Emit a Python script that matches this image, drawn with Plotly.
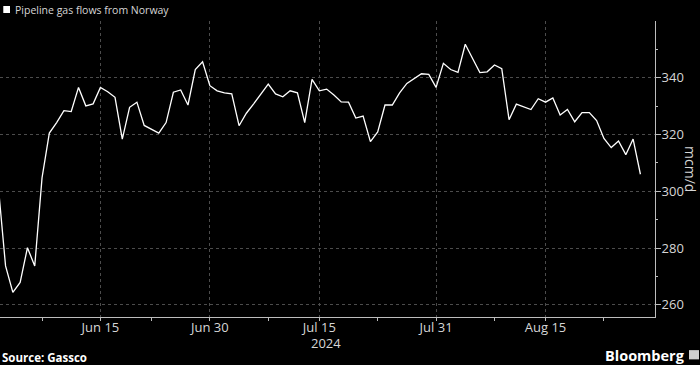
import plotly.graph_objects as go
import pandas as pd

# ---- data ----
start_date = "2024-06-01"
flows = [
    302.0, 273.7, 264.4, 267.9, 280.1, 273.7, 304.7, 320.5, 324.2, 328.4,   # Jun 1-10
    328.1, 336.6, 330.1, 330.8, 336.6, 335.1, 333.1, 318.4, 329.6, 331.4,   # Jun 11-20
    323.2, 321.9, 320.5, 324.2, 334.9, 335.7, 330.4, 342.9, 345.6, 337.2,   # Jun 21-30
    335.4, 334.7, 334.3, 323.1, 327.5, 330.8, 334.3, 337.8, 334.3, 333.3,   # Jul 1-10
    335.4, 334.7, 324.2, 339.4, 335.4, 336.0, 333.9, 331.5, 331.4, 325.8,   # Jul 11-20
    326.5, 317.5, 320.9, 330.4, 330.4, 334.7, 338.0, 339.8, 341.4, 341.2,   # Jul 21-30
    336.6, 345.1, 342.9, 341.9, 351.8, 346.8, 341.8, 342.1, 344.5, 343.2,   # Jul 31-Aug 9
    325.2, 330.7, 329.7, 328.8, 332.6, 331.4, 332.9, 326.9, 328.8, 324.5,   # Aug 10-19
    327.7, 327.7, 324.9, 318.6, 315.4, 317.7, 312.9, 318.4, 306.0,          # Aug 20-28
]
dates = pd.date_range(start_date, periods=len(flows), freq="D")

series_name = "Pipeline gas flows from Norway"
x_tick_vals = ["2024-06-15", "2024-06-30", "2024-07-15", "2024-07-31", "2024-08-15"]
x_tick_text = ["Jun 15", "Jun 30", "Jul 15", "Jul 31", "Aug 15"]
x_minor_vals = ["2024-06-07", "2024-06-22", "2024-07-08", "2024-07-23",
                "2024-08-08", "2024-08-23"]
year_label = "2024"
y_tick_vals = [260, 280, 300, 320, 340]
y_minor_vals = [270, 290, 310, 330, 350]
x_range = ["2024-06-01 05:45", "2024-08-30 00:00"]
y_range = [255.7, 360]
y_title = "mcm/d"
source_text = "Source: Gassco"
brand_text = "Bloomberg"

TEXT = "#d6d6d6"
GRID = "#4c4c4c"
AXIS = "#bdbdbd"
FONT = "Open Sans"

fig = go.Figure()
fig.add_trace(go.Scatter(
    x=dates, y=flows, mode="lines", name=series_name,
    line=dict(color="#ffffff", width=1.3), showlegend=False,
))

fig.update_layout(
    width=700, height=365,
    margin=dict(l=0, r=45, t=20.7, b=47.5),
    paper_bgcolor="#000000", plot_bgcolor="#000000",
    font=dict(family=FONT, color=TEXT, size=13),
    xaxis=dict(
        range=x_range, type="date",
        tickmode="array", tickvals=x_tick_vals, ticktext=x_tick_text,
        ticks="outside", ticklen=3, tickcolor=AXIS, tickwidth=1,
        ticklabelstandoff=-5,
        showgrid=True, gridcolor=GRID, griddash="dot", gridwidth=1,
        showline=True, linecolor=AXIS, linewidth=1,
        zeroline=False,
        tickfont=dict(size=13, color=TEXT, family=FONT),
        minor=dict(tickmode="array", tickvals=x_minor_vals, ticks="outside",
                   ticklen=3, tickcolor=AXIS, showgrid=False),
    ),
    yaxis=dict(
        range=y_range, side="right",
        tickmode="array", tickvals=y_tick_vals,
        ticks="outside", ticklen=5, tickcolor=AXIS, tickwidth=1,
        ticklabelstandoff=-2,
        showgrid=True, gridcolor=GRID, griddash="dot", gridwidth=1,
        showline=True, linecolor=AXIS, linewidth=1,
        zeroline=False,
        tickfont=dict(size=13, color=TEXT, family=FONT),
        minor=dict(tickmode="array", tickvals=y_minor_vals, ticks="outside",
                   ticklen=2, tickcolor=AXIS, showgrid=False),
    ),
)

# legend-like label
fig.add_shape(type="rect", xref="paper", yref="paper",
              x0=0.005, x1=0.0153, y0=1.027, y1=1.0506,
              fillcolor="#ffffff", line=dict(width=0))
fig.add_annotation(xref="paper", yref="paper", x=0.0198, y=1.0377,
                   xanchor="left", yanchor="middle", showarrow=False,
                   text=series_name, font=dict(size=10.5, color=TEXT, family=FONT))

# year under Jul 15
fig.add_annotation(xref="paper", yref="paper", x=0.4977, y=-0.0875,
                   xanchor="center", yanchor="middle", showarrow=False,
                   borderpad=0,
                   text=year_label, font=dict(size=13, color=TEXT, family=FONT))

# right axis title
fig.add_annotation(xref="paper", yref="paper", x=1.054, y=0.4987,
                   xanchor="center", yanchor="middle", showarrow=False,
                   textangle=90, text=y_title,
                   font=dict(size=14, color=TEXT, family=FONT))

# footer
fig.add_annotation(xref="paper", yref="paper", x=0.0, y=-0.1365,
                   xanchor="left", yanchor="middle", showarrow=False,
                   text="<b>" + source_text + "</b>",
                   font=dict(size=11.5, color="#ffffff", family=FONT))
fig.add_annotation(xref="paper", yref="paper", x=1.049, y=-0.1297,
                   xanchor="right", yanchor="middle", showarrow=False,
                   text="<b>" + brand_text + "</b>",
                   font=dict(size=14.5, color="#ffffff", family=FONT))
fig.add_shape(type="rect", xref="paper", yref="paper",
              x0=1.0519, x1=1.0672, y0=-0.1432, y1=-0.1119,
              fillcolor="#d0d0d0", line=dict(width=0))

fig.write_html("out.html")
